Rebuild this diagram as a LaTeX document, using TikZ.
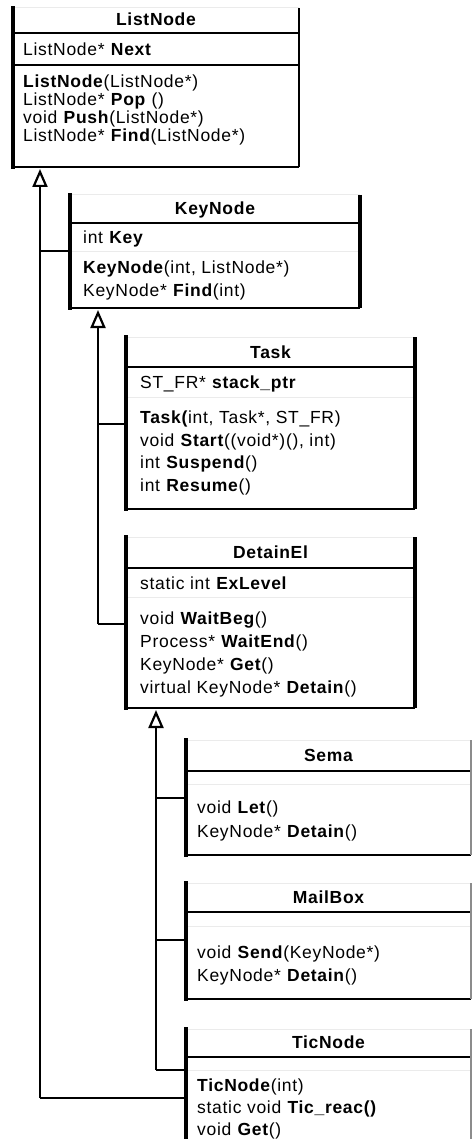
\documentclass[tikz,border=0pt]{standalone}
\usepackage{fontspec}
\setmainfont{Liberation Sans}[LetterSpace=4]
\usetikzlibrary{arrows.meta}
\begin{document}
\begin{tikzpicture}[x=1pt,y=-1pt,
  classbox/.style={draw=none,inner sep=0pt,outer sep=0pt},
  leftedge/.style={line width=3.5pt,line cap=rect},
  rightthick/.style={line width=3.5pt},
  thinline/.style={line width=1.5pt},
  faint/.style={line width=1pt,draw=black!8},
  greyedge/.style={line width=1.5pt,draw=black!45},
  ttl/.style={font=\fontsize{17.5}{21}\selectfont\bfseries,inner sep=0pt,anchor=base},
  row/.style={font=\fontsize{17.5}{21}\selectfont,inner sep=0pt,anchor=base west},
  conn/.style={line width=2.6pt},
  gen/.style={line width=2.6pt,-{Triangle[open,length=18pt,width=15pt,line width=2.2pt]}}
]
\useasboundingbox (0,0) rectangle (472,1139);

% ---------- ListNode ----------
\node[classbox,minimum width=286pt,minimum height=159pt] (listnode) at (156,87.5) {};
\draw[faint] (listnode.north west) -- (listnode.north east);
\draw[thinline] (13,33) -- (299,33);
\draw[thinline] (13,65) -- (299,65);
\draw[thinline] (listnode.south west) -- (listnode.south east);
\draw[thinline] (listnode.north east) -- (listnode.south east);
\draw[leftedge] (listnode.north west) -- (listnode.south west);
\node[ttl] (ln-t) at (156,26) {ListNode};
\node[row] (ln-a1) at (23,55.5) {ListNode* \textbf{Next}};
\node[row] (ln-m1) at (23,88) {\textbf{ListNode}(ListNode*)};
\node[row] (ln-m2) at (23,106) {ListNode* \textbf{Pop} ()};
\node[row] (ln-m3) at (23,124) {void \textbf{Push}(ListNode*)};
\node[row] (ln-m4) at (23,141.5) {ListNode* \textbf{Find}(ListNode*)};

% ---------- KeyNode ----------
\node[classbox,minimum width=290pt,minimum height=113pt] (keynode) at (215,251.5) {};
\draw[faint] (keynode.north west) -- (keynode.north east);
\draw[thinline] (70,223) -- (360,223);
\draw[faint] (70,252) -- (360,252);
\draw[thinline] (keynode.south west) -- (keynode.south east);
\draw[rightthick] (keynode.north east) -- (keynode.south east);
\draw[leftedge] (keynode.north west) -- (keynode.south west);
\node[ttl] (kn-t) at (215,215) {KeyNode};
\node[row] (kn-a1) at (83,244) {int \textbf{Key}};
\node[row] (kn-m1) at (83,274) {\textbf{KeyNode}(int, ListNode*)};
\node[row] (kn-m2) at (83,296) {KeyNode* \textbf{Find}(int)};

% ---------- Task ----------
\node[classbox,minimum width=289pt,minimum height=172pt] (task) at (270.5,423) {};
\draw[faint] (task.north west) -- (task.north east);
\draw[thinline] (126,367) -- (415,367);
\draw[faint] (126,397) -- (415,397);
\draw[thinline] (task.south west) -- (task.south east);
\draw[rightthick] (task.north east) -- (task.south east);
\draw[leftedge] (task.north west) -- (task.south west);
\node[ttl] (tk-t) at (270.5,358) {Task};
\node[row] (tk-a1) at (140,388) {ST\_FR* \textbf{stack\_ptr}};
\node[row] (tk-m1) at (140,423) {\textbf{Task(}int, Task*, ST\_FR)};
\node[row] (tk-m2) at (140,446) {void \textbf{Start}((void*)(), int)};
\node[row] (tk-m3) at (140,468) {int \textbf{Suspend}()};
\node[row] (tk-m4) at (140,491) {int \textbf{Resume}()};

% ---------- DetainEl ----------
\node[classbox,minimum width=289pt,minimum height=171pt] (detain) at (270.5,622.5) {};
\draw[faint] (detain.north west) -- (detain.north east);
\draw[thinline] (126,568) -- (415,568);
\draw[faint] (126,597) -- (415,597);
\draw[thinline] (detain.south west) -- (detain.south east);
\draw[rightthick] (detain.north east) -- (detain.south east);
\draw[leftedge] (detain.north west) -- (detain.south west);
\node[ttl] (de-t) at (270.5,558) {DetainEl};
\node[row] (de-a1) at (140,589) {static int \textbf{ExLevel}};
\node[row] (de-m1) at (140,624) {void \textbf{WaitBeg}()};
\node[row] (de-m2) at (140,647) {Process* \textbf{WaitEnd}()};
\node[row] (de-m3) at (140,670) {KeyNode* \textbf{Get}()};
\node[row] (de-m4) at (140,693) {virtual KeyNode* \textbf{Detain}()};

% ---------- Sema ----------
\node[classbox,minimum width=285pt,minimum height=115pt] (sema) at (328.5,797.5) {};
\draw[faint] (sema.north west) -- (sema.north east);
\draw[thinline] (186,771) -- (471,771);
\draw[faint] (186,784) -- (471,784);
\draw[thinline] (sema.south west) -- (sema.south east);
\draw[greyedge] (sema.north east) -- (sema.south east);
\draw[leftedge] (sema.north west) -- (sema.south west);
\node[ttl] (se-t) at (328.5,761) {Sema};
\node[row] (se-m1) at (197,813) {void \textbf{Let}()};
\node[row] (se-m2) at (197,837) {KeyNode* \textbf{Detain}()};

% ---------- MailBox ----------
\node[classbox,minimum width=285pt,minimum height=116pt] (mailbox) at (328.5,941) {};
\draw[faint] (mailbox.north west) -- (mailbox.north east);
\draw[thinline] (186,912) -- (471,912);
\draw[faint] (186,926) -- (471,926);
\draw[thinline] (mailbox.south west) -- (mailbox.south east);
\draw[greyedge] (mailbox.north east) -- (mailbox.south east);
\draw[leftedge] (mailbox.north west) -- (mailbox.south west);
\node[ttl] (mb-t) at (328.5,903) {MailBox};
\node[row] (mb-m1) at (197,958) {void \textbf{Send}(KeyNode*)};
\node[row] (mb-m2) at (197,981) {KeyNode* \textbf{Detain}()};

% ---------- TicNode ----------
\node[classbox,minimum width=285pt,minimum height=112pt] (ticnode) at (328.5,1085) {};
\draw[faint] (ticnode.north west) -- (ticnode.north east);
\draw[thinline] (186,1057) -- (471,1057);
\draw[faint] (186,1070) -- (471,1070);
\draw[greyedge] (ticnode.north east) -- (ticnode.south east);
\draw[leftedge] (ticnode.north west) -- (ticnode.south west);
\node[ttl] (tn-t) at (328.5,1048) {TicNode};
\node[row] (tn-m1) at (197,1091) {\textbf{TicNode}(int)};
\node[row] (tn-m2) at (197,1113) {static void \textbf{Tic\_reac()}};
\node[row] (tn-m3) at (197,1135.5) {void \textbf{Get}()};

% ---------- connectors ----------
% trunk 1: ListNode
\coordinate (t1top) at (40,169);
\coordinate (t1bot) at (40,1098);
\draw[conn] (t1bot) -- (t1bot -| ticnode.west);
\draw[conn] (40,251) -- (40,251 -| keynode.west);
\draw[gen] (t1bot) -- (t1top);
% trunk 2: KeyNode
\coordinate (t2top) at (98,310);
\coordinate (t2bot) at (98,624);
\draw[conn] (98,424) -- (98,424 -| task.west);
\draw[conn] (t2bot) -- (t2bot -| detain.west);
\draw[gen] (t2bot) -- (t2top);
% trunk 3: DetainEl
\coordinate (t3top) at (156,710);
\coordinate (t3bot) at (156,1070);
\draw[conn] (156,798) -- (156,798 -| sema.west);
\draw[conn] (156,940) -- (156,940 -| mailbox.west);
\draw[conn] (t3bot) -- (t3bot -| ticnode.west);
\draw[gen] (t3bot) -- (t3top);
\end{tikzpicture}
\end{document}
